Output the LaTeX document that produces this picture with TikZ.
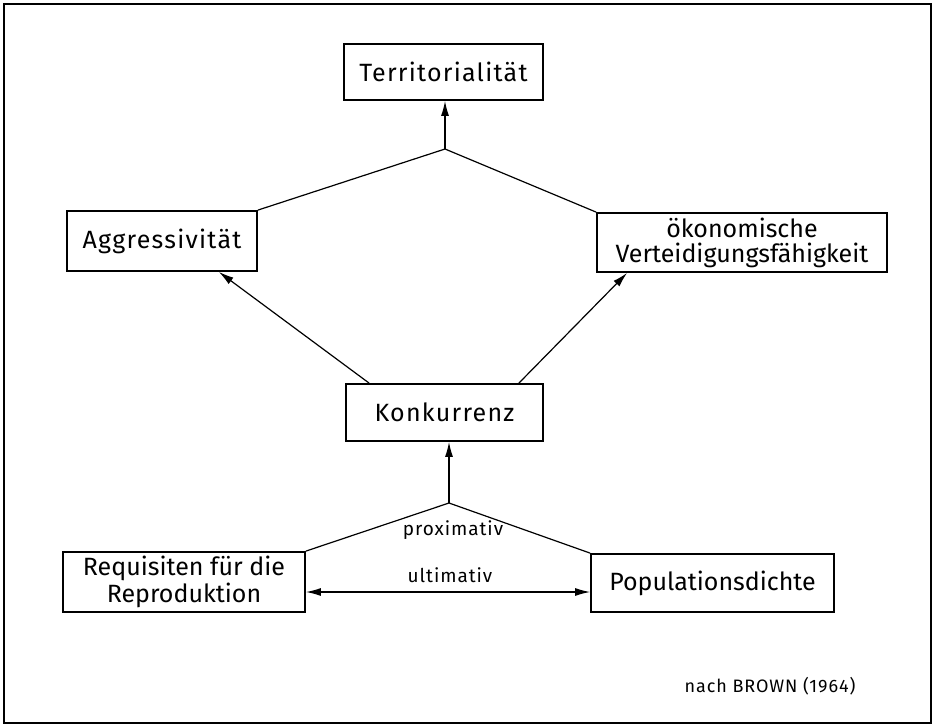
\documentclass[tikz,border=0pt]{standalone}
\usepackage{fontspec}
\setmainfont{Fira Sans}[LetterSpace=5]
\usetikzlibrary{arrows.meta}

\begin{document}
\begin{tikzpicture}[x=.5pt, y=-.5pt,
  box/.style={draw, line width=.9pt, inner sep=2pt, align=center, font=\fontsize{12.5}{12.5}\selectfont},
  tight/.style={font=\fontsize{12.5}{#1}\selectfont\addfontfeatures{LetterSpace=0}},
  con/.style={line width=.6pt},
  arr/.style={con, -{Latex[length=7.5pt,width=4pt]}},
  arrb/.style={con, {Latex[length=7.5pt,width=4pt]}-{Latex[length=7.5pt,width=4pt]}},
  lbl/.style={inner sep=0pt, font=\fontsize{9.5}{11}\selectfont}]
\useasboundingbox (0,0) rectangle (935,727);
\draw[line width=1pt] (4,4) rectangle (931,723);
\node[box, minimum width=99.5pt, minimum height=28pt] (terr) at (443.5,72) {Territorialität};
\node[box, minimum width=95pt, minimum height=30pt] (aggr) at (162,241) {Aggressivität};
\node[box, tight=12.5, minimum width=145pt, minimum height=29.5pt] (oeko) at (742,242.5) {ökonomische\\Verteidigungsfähigkeit};
\node[box, minimum width=98.5pt, minimum height=28.5pt] (konk) at (444.5,412.5) {Konkurrenz};
\node[box, tight=13.5, minimum width=121pt, minimum height=30pt] (req) at (184,582) {Requisiten für die\\Reproduktion};
\node[box, tight=12.5, minimum width=121.5pt, minimum height=29pt] (pop) at (712.5,583) {Populationsdichte};
\coordinate (top) at (445,149);
\coordinate (bot) at (449,503);
\draw[arr] (top) -- (top |- terr.south);
\draw[con] (aggr.north east) -- (top) -- (oeko.north west);
\draw[arr] ([xshift=12pt]konk.north west) -- ([xshift=-19.5pt]aggr.south east);
\draw[arr] ([xshift=-12.5pt]konk.north east) -- ([xshift=15.5pt]oeko.south west);
\draw[arr] (bot) -- (bot |- konk.south);
\draw[con] (req.north east) -- (bot) -- (pop.north west);
\draw[arrb] ([yshift=-5pt]req.east) -- ([yshift=-5pt]req.east -| pop.west);
\node[lbl] (prox) at (453,530) {proximativ};
\node[lbl] (ult) at (450,575) {ultimativ};
\node[lbl, font=\fontsize{9}{11}\selectfont] (quelle) at (770,686) {nach BROWN (1964)};
\end{tikzpicture}
\end{document}
